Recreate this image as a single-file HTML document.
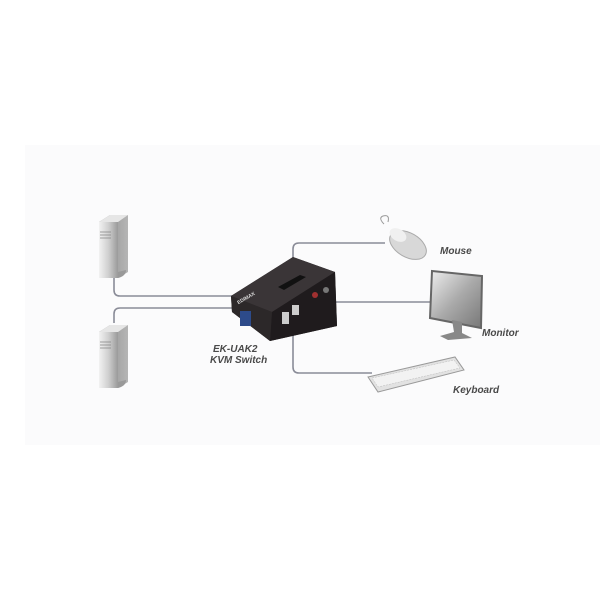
<!DOCTYPE html>
<html><head><style>
html,body{margin:0;padding:0;background:#fff;}
svg{display:block;}
text{font-family:"Liberation Sans",sans-serif;font-weight:bold;font-style:italic;font-size:10px;fill:#4a4a4a;}
</style></head><body>
<svg width="600" height="600" viewBox="0 0 600 600">
<defs>
<linearGradient id="tw" x1="0" x2="1"><stop offset="0" stop-color="#f2f2f2"/><stop offset="0.5" stop-color="#cfcfcf"/><stop offset="1" stop-color="#9a9a9a"/></linearGradient>
<linearGradient id="ts" x1="0" x2="1"><stop offset="0" stop-color="#8a8a8a"/><stop offset="1" stop-color="#b5b5b5"/></linearGradient>
<linearGradient id="scr" x1="0" y1="0" x2="1" y2="1"><stop offset="0" stop-color="#eee"/><stop offset="0.5" stop-color="#aaa"/><stop offset="1" stop-color="#777"/></linearGradient>
</defs>
<rect x="25" y="145" width="575" height="300" fill="#fbfbfc"/>
<g fill="none" stroke="#8a8c98" stroke-width="1.6">
<path d="M114 278 V290 Q114 296 120 296 H235"/>
<path d="M235 308 H120 Q114 308 114 314 V323"/>
<path d="M293 275 V249 Q293 243 299 243 H385"/>
<path d="M336 302 H432"/>
<path d="M293 330 V367 Q293 373 299 373 H372"/>
</g>
<g id="t1">
<path d="M99 222 L110 215 L128 215 L128 272 L118 278 Z" fill="url(#ts)"/>
<path d="M99 222 L118 222 L118 278 L99 278 Z" fill="url(#tw)"/>
<path d="M99 222 L110 215 L128 215 L118 222 Z" fill="#e6e6e6"/>
<path d="M118 278 Q126 276 126 270 L118 272Z" fill="#999"/>
<g stroke="#888" stroke-width="0.8"><line x1="100" y1="232" x2="111" y2="232"/><line x1="100" y1="235" x2="111" y2="235"/><line x1="100" y1="238" x2="111" y2="238"/></g>
</g>
<use href="#t1" transform="translate(0,110)"/>
<path d="M231 296 L293 257 L335 272 L337 326 L270 341 L232 312 Z" fill="#2a2628"/>
<path d="M231 296 L293 257 L335 272 L272 312 Z" fill="#3a3537"/>
<path d="M272 312 L335 272 L337 326 L270 341 Z" fill="#1f1b1d"/>
<path d="M231 296 L272 312 L270 341 L232 312 Z" fill="#2c2829"/>
<path d="M278 287 L300 275 L306 277 L284 290 Z" fill="#111"/>
<text x="237" y="303" transform="rotate(-30 240 301)" style="font-size:5px;fill:#ddd;font-style:normal">EDIMAX</text>
<rect x="240" y="311" width="11" height="15" fill="#2d4b8a"/>
<rect x="282" y="312" width="7" height="12" fill="#ccc"/>
<rect x="292" y="305" width="7" height="10" fill="#ccc"/>
<circle cx="315" cy="295" r="3" fill="#a03030"/>
<circle cx="326" cy="290" r="3" fill="#777"/>
<path d="M384 224 Q378 218 383 216 Q390 214 388 222" fill="none" stroke="#999" stroke-width="1"/>
<ellipse cx="408" cy="245" rx="20" ry="12" transform="rotate(30 408 245)" fill="#d8d8d8" stroke="#aaa"/>
<ellipse cx="398" cy="235" rx="9" ry="6" transform="rotate(30 398 235)" fill="#f0f0f0"/>
<text x="440" y="254">Mouse</text>
<path d="M432 271 L482 276 L481 328 L430 318 Z" fill="url(#scr)" stroke="#666" stroke-width="2"/>
<path d="M452 320 L462 322 L462 333 L472 338 L448 340 L440 336 L454 332 Z" fill="#888"/>
<text x="482" y="336">Monitor</text>
<path d="M368 377 L455 357 L464 370 L378 392 Z" fill="#e2e2e2" stroke="#999" stroke-width="1"/>
<path d="M372 378 L454 360 L460 368 L378 387 Z" fill="#f2f2f2" stroke="#bbb" stroke-width="0.5" stroke-dasharray="2 1"/>
<text x="453" y="393">Keyboard</text>
<text x="213" y="352">EK-UAK2</text>
<text x="210" y="363">KVM Switch</text>
</svg>
</body></html>
